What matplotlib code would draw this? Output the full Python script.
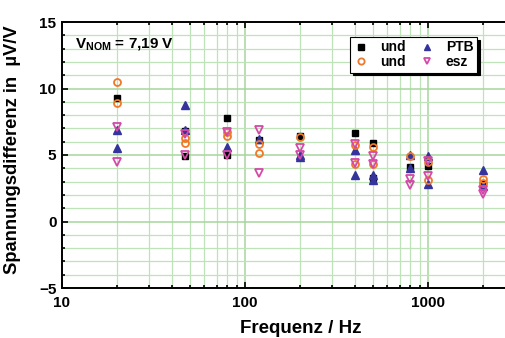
import matplotlib
matplotlib.use("Agg")
import matplotlib.pyplot as plt
from matplotlib.ticker import LogLocator, MultipleLocator, FixedLocator, NullFormatter, FixedFormatter

plt.rcParams['font.family'] = ['Liberation Sans', 'DejaVu Sans']
plt.rcParams['font.weight'] = 'bold'
plt.rcParams['mathtext.fontset'] = 'custom'
plt.rcParams['mathtext.rm'] = 'Liberation Sans:bold'
plt.rcParams['mathtext.bf'] = 'Liberation Sans:bold'

# Data (frequency in Hz, voltage difference in µV/V)
und1_f = [20, 47, 47, 80, 80, 120, 200, 400, 500, 500, 800, 1000, 2000]
und1_v = [9.3, 6.8, 4.95, 7.8, 5.0, 6.15, 6.45, 6.65, 5.9, 3.3, 4.1, 4.2, 2.8]

und2_f = [20, 20, 47, 47, 80, 80, 120, 120, 200, 400, 400, 500, 500, 800, 1000, 1000, 2000, 2000]
und2_v = [10.5, 8.9, 6.3, 5.9, 6.7, 6.45, 5.8, 5.15, 6.35, 5.75, 4.35, 5.6, 4.3, 4.95, 4.45, 3.1, 3.2, 2.9]

ptb_f = [20, 20, 47, 47, 80, 120, 200, 200, 400, 400, 500, 500, 800, 800, 1000, 1000, 2000, 2000]
ptb_v = [6.9, 5.5, 8.75, 6.9, 5.6, 6.2, 5.0, 4.85, 5.4, 3.5, 3.5, 3.15, 5.0, 4.05, 4.9, 2.85, 3.9, 2.7]

esz_f = [20, 20, 47, 47, 80, 80, 120, 120, 200, 200, 400, 400, 500, 500, 800, 800, 1000, 1000, 2000, 2000]
esz_v = [7.1, 4.45, 6.6, 5.0, 6.75, 5.0, 6.85, 3.65, 5.55, 5.0, 5.85, 4.4, 4.9, 4.3, 3.2, 2.75, 4.55, 3.45, 2.35, 2.1]

x_ticks = [10, 100, 1000]
x_ticklabels = ['10', '100', '1000']
y_ticks = [-5, 0, 5, 10, 15]

fig = plt.figure(figsize=(5.05, 3.38), dpi=100)
ax = fig.add_axes([62/505, 1-288/338, 1-62/505, (288-22)/338])

ax.set_xscale('log')
ax.set_xlim(10, 2640)
ax.set_ylim(-5, 15)

ax.grid(which='minor', color='#bfe3b8', lw=0.9, zorder=0)
ax.grid(which='major', color='#a6d69c', lw=1.1, zorder=0)
ax.set_axisbelow(True)

ms = 4.6
ax.plot(und1_f, und1_v, 's', color='black', ms=ms, ls='none', label='und', zorder=3)
ax.plot(und2_f, und2_v, 'o', mfc='none', mec='#f07828', mew=1.3, ms=ms+0.4, ls='none', label='und', zorder=4)
ax.plot(ptb_f, ptb_v, '^', color='#34349c', ms=ms+0.6, ls='none', label='PTB', zorder=3)
ax.plot(esz_f, esz_v, 'v', mfc='none', mec='#d448a8', mew=1.3, ms=ms+0.6, ls='none', label='esz', zorder=4)

ax.xaxis.set_major_locator(FixedLocator(x_ticks))
ax.xaxis.set_major_formatter(FixedFormatter(x_ticklabels))
ax.xaxis.set_minor_locator(LogLocator(base=10, subs=range(2, 10)))
ax.xaxis.set_minor_formatter(NullFormatter())
ax.yaxis.set_major_locator(FixedLocator(y_ticks))
ax.yaxis.set_minor_locator(MultipleLocator(1))

ax.tick_params(which='both', direction='in', top=True, right=False, width=1.2)
ax.tick_params(which='major', length=4, labelsize=11)
ax.tick_params(axis='x', which='major', pad=6)
ax.tick_params(axis='y', which='major', pad=4)
ax.tick_params(which='minor', length=2.5)
for lab in ax.get_xticklabels() + ax.get_yticklabels():
    lab.set_fontweight('bold')

for s in ['left', 'bottom', 'top']:
    ax.spines[s].set_linewidth(1.4)
ax.spines['right'].set_visible(False)

ax.set_xlabel('Frequenz / Hz', fontsize=13.5, fontweight='bold')
ax.xaxis.set_label_coords(0.54, -0.122)
ax.set_ylabel('Spannungsdifferenz in  µV/V', fontsize=13.2, fontweight='bold')
ax.yaxis.set_label_coords(-0.092, 0.52)

ax.text(0.03, 0.913, r'$\mathbf{V}_{\mathbf{NOM}}$ = 7,19 V', transform=ax.transAxes,
        fontsize=11, fontweight='bold', ha='left', va='center')

leg = ax.legend(ncol=2, loc='upper right', bbox_to_anchor=(0.937, 0.944), borderaxespad=0,
                fontsize=10, frameon=True, fancybox=False, shadow={'color': 'black', 'alpha': 1},
                edgecolor='black', handlelength=1.0, handletextpad=0.9, columnspacing=1.0,
                labelspacing=0.05, borderpad=0.25, markerscale=0.9)
leg.get_frame().set_linewidth(0.8)
for t in leg.get_texts():
    t.set_fontweight('bold')

fig.savefig('out.png', dpi=100)
